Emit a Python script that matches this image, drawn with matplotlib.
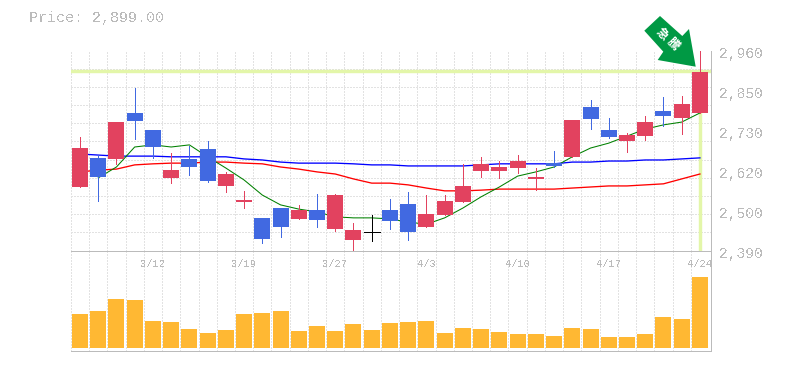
import numpy as np
import matplotlib
matplotlib.use('Agg')
import matplotlib.pyplot as plt
from matplotlib.patches import Polygon
from matplotlib.transforms import ScaledTranslation

plt.rcParams['font.family'] = ['Liberation Mono', 'Noto Sans CJK JP', 'DejaVu Sans']
plt.rcParams['text.antialiased'] = False

opens = [2571, 2654, 2651, 2782, 2734, 2597, 2651, 2679, 2574, 2528, 2483, 2511, 2480, 2506, 2451, 2420, 2442, 2506,
         2523, 2457, 2491, 2528, 2617, 2617, 2625, 2594, 2639, 2657, 2799, 2734, 2702, 2716, 2788, 2768, 2782]
highs = [2714, 2662, 2756, 2853, 2734, 2668, 2688, 2702, 2614, 2560, 2483, 2511, 2520, 2551, 2551, 2468, 2491, 2537,
         2557, 2548, 2548, 2637, 2657, 2645, 2662, 2625, 2674, 2762, 2819, 2768, 2725, 2773, 2828, 2830, 2960]
lows = [2571, 2531, 2637, 2708, 2654, 2582, 2605, 2585, 2557, 2511, 2411, 2429, 2480, 2457, 2446, 2389, 2417, 2451,
        2420, 2457, 2491, 2528, 2600, 2597, 2611, 2562, 2628, 2657, 2736, 2711, 2671, 2705, 2745, 2722, 2782]
closes = [2682, 2600, 2756, 2759, 2685, 2619, 2628, 2588, 2608, 2534, 2423, 2457, 2506, 2477, 2548, 2449, 2442, 2474,
          2443, 2494, 2531, 2574, 2637, 2628, 2645, 2600, 2631, 2762, 2765, 2714, 2719, 2756, 2773, 2808, 2899]
ma_short = [None, 2597, 2628, 2685, 2691, 2685, 2691, 2657, 2625, 2591, 2548, 2520, 2508, 2500, 2486, 2483, 2483, 2480,
            2471, 2465, 2483, 2511, 2543, 2571, 2602, 2614, 2628, 2657, 2682, 2696, 2716, 2736, 2748, 2756, 2782]
ma_mid = [2614, 2619, 2622, 2634, 2637, 2639, 2639, 2642, 2642, 2639, 2637, 2628, 2622, 2614, 2608, 2594, 2582, 2582,
          2577, 2568, 2560, 2560, 2562, 2565, 2565, 2565, 2565, 2568, 2571, 2574, 2574, 2577, 2580, 2594, 2608]
ma_long = [2665, 2662, 2659, 2659, 2659, 2657, 2657, 2657, 2657, 2651, 2648, 2642, 2639, 2639, 2639, 2637, 2634, 2634,
           2631, 2631, 2631, 2631, 2634, 2637, 2637, 2637, 2637, 2642, 2642, 2645, 2645, 2648, 2648, 2651, 2654]
volumes = [343, 373, 493, 483, 273, 263, 193, 153, 183, 343, 353, 373, 173, 223, 173, 243, 183, 253,
           263, 273, 153, 203, 193, 163, 143, 143, 123, 203, 193, 113, 113, 143, 313, 293, 713]
date_pos = [4, 9, 14, 19, 24, 29, 34]
date_labels = ['3/12', '3/19', '3/27', '4/3', '4/10', '4/17', '4/24']
price_ticks = [2960, 2846, 2732, 2618, 2504, 2390]
price_labels = ['2,960', '2,850', '2,730', '2,620', '2,500', '2,390']
last_price = 2899

W, H = 785, 370
PX = 0.72
RED = '#E2425F'
BLUE = '#4169E1'
GRAY = '#BBBBBB'
GRID = '#E2E2E2'
PALE = '#E3F6A9'

fig = plt.figure(figsize=(W / 100, H / 100), dpi=100)
vx = fig.add_axes([70.5 / W, 1 - 350.5 / H, 640 / W, 100 / H])
ax = fig.add_axes([70.5 / W, 1 - 250.5 / H, 640 / W, 200 / H])
vx.patch.set_visible(False)
ax.patch.set_visible(False)

x = np.arange(len(opens))
for a in (ax, vx):
    a.set_xlim(-0.52, 34.58)
    a.set_xticks(x - 0.5, minor=True)
    a.grid(True, which='minor', axis='x', color=GRID, lw=PX, ls=(0, (2, 2)), zorder=0, antialiased=False)
    a.tick_params(which='both', length=0)
    a.set_axisbelow(True)
    a.spines['top'].set_visible(False)
    a.spines['left'].set_visible(False)
    a.spines['right'].set_color(GRAY)
    a.spines['bottom'].set_color(GRAY)
    a.spines['right'].set_linewidth(PX)
    a.spines['bottom'].set_linewidth(PX)

ax.set_ylim(2390, 2960)
ax.set_yticks(np.linspace(2390, 2960, 12), minor=True)
ax.grid(True, which='minor', axis='y', color=GRID, lw=PX, ls=(0, (2, 2)), zorder=0, antialiased=False)
ax.yaxis.tick_right()
ax.set_yticks(price_ticks)
ax.set_yticklabels(price_labels, fontsize=10.5, color=GRAY)
ax.tick_params(axis='y', which='major', pad=6)
down = ScaledTranslation(0, -2 / 100, fig.dpi_scale_trans)
for lab in ax.get_yticklabels():
    lab.set_transform(lab.get_transform() + down)
ax.set_xticks(date_pos)
ax.set_xticklabels(date_labels, fontsize=7.5, color=GRAY)
ax.tick_params(axis='x', which='major', pad=6)

ax.axhline(last_price + 2, color=PALE, lw=3.4 * PX, zorder=1)
ax.vlines(x[-1], 2390, last_price, color=PALE, lw=3.4 * PX, zorder=1)

for series, col, width in ((ma_long, '#0000FF', 0.95), (ma_mid, '#FF0000', 0.95), (ma_short, '#008000', 0.75)):
    vals = np.array([np.nan if v is None else v for v in series], dtype=float)
    ax.plot(x, vals, color=col, lw=width, zorder=2)

body_w = 16 / 18.235
for i in range(len(opens)):
    o, h, l, c = opens[i], highs[i], lows[i], closes[i]
    if c == o:
        col = 'black'
    elif c > o:
        col = RED
    else:
        col = BLUE
    ax.vlines(i, l, h, color=col, lw=PX, zorder=3, antialiased=False)
    if c == o:
        ax.hlines(c, i - body_w / 2, i + body_w / 2, color=col, lw=PX, zorder=4, antialiased=False)
    else:
        ax.bar(i, abs(c - o), bottom=min(o, c), width=body_w, color=col, lw=0, zorder=4)

vx.set_ylim(-22, 978)
vx.set_yticks([])
vx.set_xticks([])
vx.bar(x, volumes, width=body_w, color='#FFB833', lw=0, zorder=3)

fig.text(29 / W, 1 - 18 / H, 'Price: 2,899.00', fontsize=10.8, color=GRAY, va='center', ha='left')

# arrow badge, in figure pixels
arrow = np.array([(660, 16), (644.3, 30.7), (663.3, 51.7), (657.7, 60), (695.7, 66.7), (689, 29), (682.3, 36)])
fig.add_artist(Polygon(arrow / [W, H] * [1, -1] + [0, 1], closed=True, transform=fig.transFigure,
                       facecolor='#009944', edgecolor='none', zorder=5))
fig.text(661.5 / W, 1 - 34 / H, '急', fontsize=8.6, color='white', rotation=-45, ha='center', va='center',
         weight='bold', zorder=6, antialiased=True)
fig.text(672.5 / W, 1 - 44 / H, '騰', fontsize=8.6, color='white', rotation=-45, ha='center', va='center',
         weight='bold', zorder=6, antialiased=True)

fig.savefig('out.png', dpi=100)
